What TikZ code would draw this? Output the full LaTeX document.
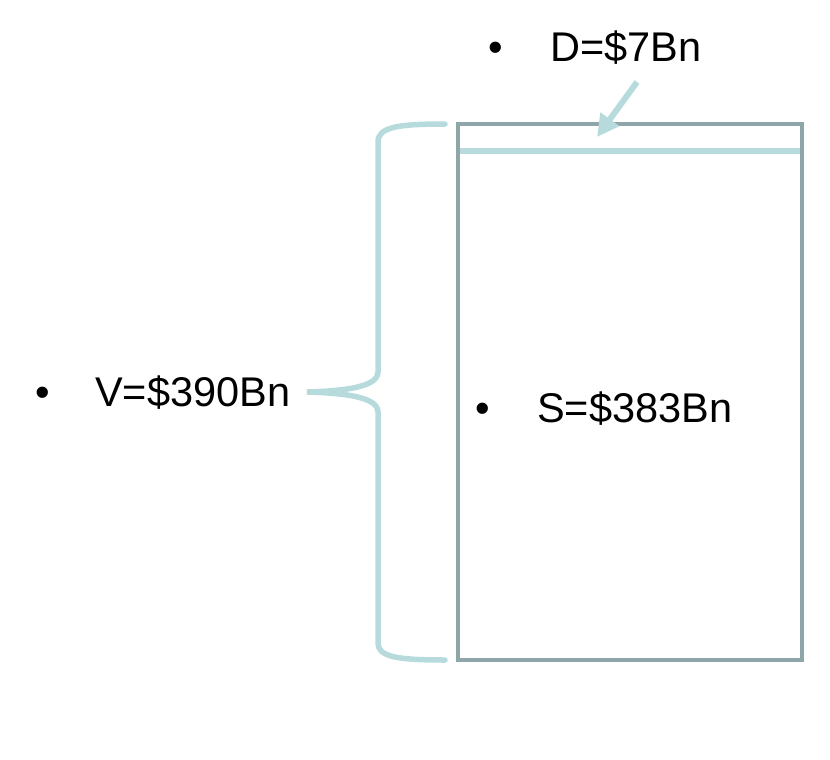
\documentclass[tikz,border=0pt]{standalone}
\usepackage{fontspec}
\setmainfont{Liberation Sans}
\usetikzlibrary{arrows.meta}
\definecolor{boxgray}{HTML}{8FA6A8}
\definecolor{paleteal}{HTML}{B7DBDD}
\begin{document}
\begin{tikzpicture}[x=1pt, y=-1pt,
	lbl/.style={inner sep=0pt, anchor=base west, font=\fontsize{41.5}{48}\selectfont},
	bul/.style={inner sep=0pt, anchor=base, font=\fontsize{41.5}{48}\selectfont}]
			%%%%% START %%%%%
			
			\useasboundingbox (0, 0) rectangle (830, 760);
			
			\draw[boxgray, line width=4.5pt] (458, 124) rectangle (802, 660);
			\draw[paleteal, line width=6.5pt] (460, 151) -- (800, 151);
			
			\draw[paleteal, line width=5.5pt, line cap=round] (445, 124) .. controls (398, 124) and (378, 127) .. (378, 142) -- (378, 372) .. controls (378, 388) and (340, 391) .. (307, 392) .. controls (340, 393) and (378, 396) .. (378, 412) -- (378, 643) .. controls (378, 657) and (398, 660) .. (445, 660);
			
			\node[bul] (vdot) at (43, 406) {•};
			\node[lbl] (vlbl) at (95, 406) {V=\$390Bn};
			
			\node[bul] (sdot) at (483, 422) {•};
			\node[lbl] (slbl) at (537, 422) {S=\$383Bn};
			
			\node[bul] (ddot) at (496, 62) {•};
			\node[lbl] (dlbl) at (550, 62) {D=\$7Bn};
			
			\coordinate (dtail) at (637, 82);
			\coordinate (dtip) at (597, 137);
			\draw[paleteal, line width=6pt, -{Triangle[length=22pt, width=22pt]}] (dtail) -- (dtip);
			
			%%%%% END %%%%%
\end{tikzpicture}
\end{document}
